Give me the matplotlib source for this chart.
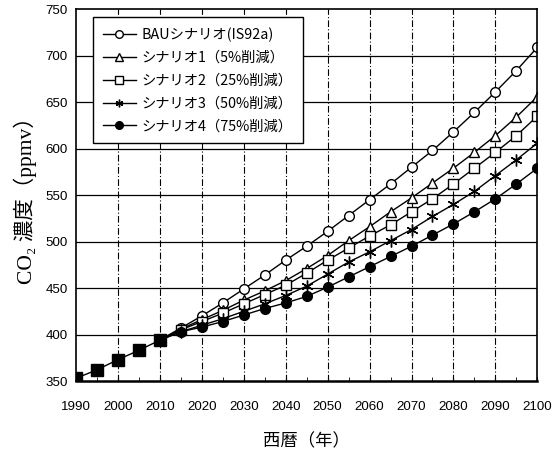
import numpy as np
import matplotlib
matplotlib.use("Agg")
import matplotlib.pyplot as plt

plt.rcParams['font.family'] = ['Liberation Sans', 'Noto Sans CJK JP', 'DejaVu Sans']

# observed part, shared by all scenarios
hist_years = [1990, 1995, 2000, 2005, 2010]
hist_co2 = [353, 362, 373, 383, 394]

years = [2010, 2015, 2020, 2025, 2030, 2035, 2040, 2045, 2050, 2055,
         2060, 2065, 2070, 2075, 2080, 2085, 2090, 2095, 2100]
bau = [394, 407, 420, 434, 449, 464, 480, 495, 511, 528,
       545, 562, 580, 598, 618, 639, 661, 684, 709]
s1 = [394, 406, 416, 426, 437, 447, 458, 471, 485, 501,
      516, 532, 547, 563, 579, 596, 614, 634, 656]
s2 = [394, 405, 414, 423, 433, 443, 453, 466, 480, 493,
      506, 518, 532, 546, 562, 579, 596, 614, 635]
s3 = [394, 403, 410, 417, 425, 433, 442, 452, 465, 478,
      489, 501, 513, 527, 540, 554, 571, 588, 606]
s4 = [394, 403, 408, 414, 421, 428, 434, 441, 451, 462,
      473, 484, 495, 507, 519, 532, 546, 562, 579]

labels = ['BAUシナリオ(IS92a)', 'シナリオ1（5%削減）', 'シナリオ2（25%削減）',
          'シナリオ3（50%削減）', 'シナリオ4（75%削減）']

fig = plt.figure(figsize=(5.54, 4.58), dpi=100)
ax = fig.add_axes([0.137, 0.168, 0.833, 0.812])

ms = 7
ax.plot(years, bau, color='k', lw=1, marker='o', ms=ms, mfc='white', mec='k', label=labels[0])
ax.plot(years, s1, color='k', lw=1, marker='^', ms=ms, mfc='white', mec='k', label=labels[1])
ax.plot(years, s2, color='k', lw=1, marker='s', ms=ms - 0.5, mfc='white', mec='k', label=labels[2])
ax.plot(years, s3, color='k', lw=1, marker=(6, 2, 0), ms=ms + 1.5, mec='k', label=labels[3])
ax.plot(years, s4, color='k', lw=1, marker='o', ms=ms, mfc='k', mec='k', label=labels[4])
ax.plot(hist_years, hist_co2, color='k', lw=1, marker='s', ms=ms + 1, mfc='k', mec='k', zorder=5)

ax.set_xlim(1990, 2100)
ax.set_ylim(350, 750)
ax.set_xticks(np.arange(1990, 2101, 10))
ax.set_xticks(np.arange(1995, 2100, 10), minor=True)
ax.set_yticks(np.arange(350, 751, 50))

for y in range(400, 750, 50):
    ax.axhline(y, color='k', lw=0.9, zorder=1)
for x in range(2000, 2100, 10):
    ax.axvline(x, color='k', lw=0.8, ls=(0, (6, 2, 1, 2)), zorder=1)

ax.tick_params(axis='both', which='both', direction='in', labelsize=9.6, length=3)
ax.tick_params(axis='y', length=0, pad=6)
ax.tick_params(axis='x', pad=14)
for sp in ax.spines.values():
    sp.set_linewidth(1.2)
ax.spines['bottom'].set_linewidth(1.8)

ax.set_ylabel('CO₂ 濃度（ppmv）', fontsize=15.5,
              family=['Liberation Serif', 'Noto Sans CJK JP', 'DejaVu Sans'], labelpad=6)
ax.set_xlabel('西暦（年）', fontsize=12.5, family=['Noto Sans CJK JP', 'DejaVu Sans'], labelpad=14)

leg = ax.legend(loc='upper left', bbox_to_anchor=(0.037, 0.978),
                frameon=True, fancybox=False, edgecolor='k', framealpha=1,
                handlelength=2.3, handletextpad=0.4, labelspacing=0.62, borderpad=0.7,
                borderaxespad=0,
                prop={'family': ['Noto Sans CJK JP', 'DejaVu Sans'], 'size': 10.3})
leg.get_frame().set_linewidth(1.0)
for h in leg.legend_handles:
    h.set_markersize(5.5)

fig.savefig('out.png', dpi=100)
